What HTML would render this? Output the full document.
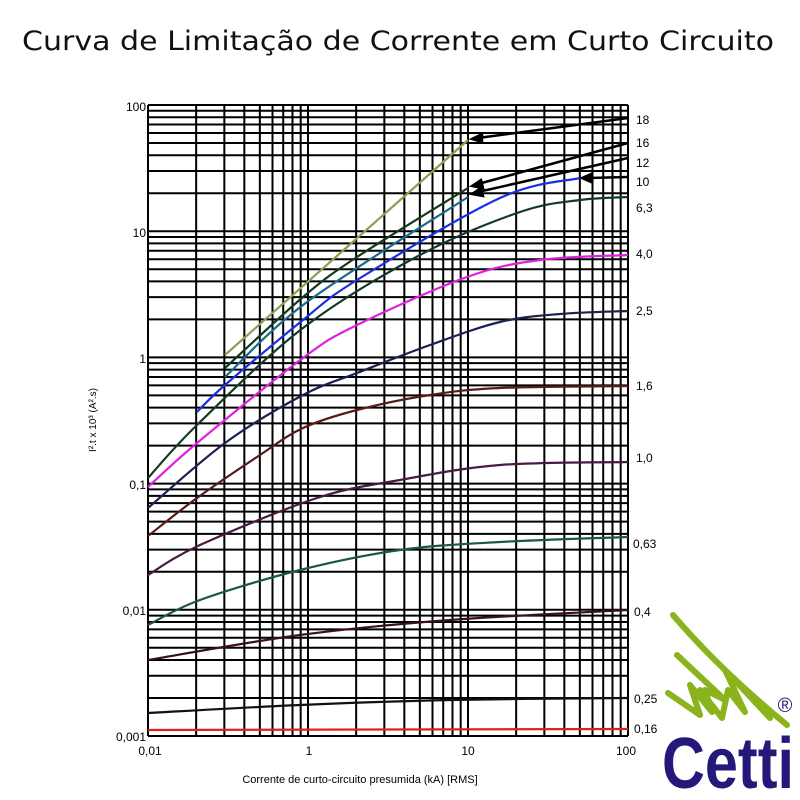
<!DOCTYPE html>
<html><head><meta charset="utf-8"><style>body{margin:0;background:#fff}svg{display:block}</style></head>
<body>
<svg id="s" width="800" height="800" xmlns="http://www.w3.org/2000/svg" font-family="Liberation Sans, sans-serif">
<text x="398" y="50" font-family="DejaVu Sans, sans-serif" font-size="27" text-anchor="middle" textLength="752" lengthAdjust="spacingAndGlyphs" fill="#111">Curva de Limitação de Corrente em Curto Circuito</text>
<g id="grid" stroke="#000" stroke-width="2"></g>
<g id="curves" fill="none" stroke-width="2.2"></g>
<g font-size="12" fill="#000" text-anchor="end">
<text x="146" y="111">100</text><text x="146" y="237">10</text><text x="146" y="363">1</text>
<text x="146" y="489">0,1</text><text x="146" y="615">0,01</text><text x="146" y="741">0,001</text>
</g>
<g font-size="12" fill="#000" text-anchor="middle">
<text x="150" y="755">0,01</text><text x="309" y="755">1</text>
<text x="468" y="755">10</text><text x="626" y="755">100</text>
<text x="360" y="783" font-size="11">Corrente de curto-circuito presumida (kA) [RMS]</text>
</g>
<text transform="translate(96,420) rotate(-90)" font-size="10" text-anchor="middle">I².t x 10³ (A².s)</text>
<g font-size="12" fill="#000">
<text x="636" y="124">18</text><text x="636" y="147">16</text><text x="636" y="167">12</text>
<text x="636" y="186">10</text><text x="636" y="212">6,3</text><text x="636" y="258">4,0</text>
<text x="636" y="315">2,5</text><text x="636" y="390">1,6</text><text x="636" y="462">1,0</text>
<text x="633" y="548">0,63</text><text x="634" y="616">0,4</text><text x="634" y="703">0,25</text>
<text x="634" y="733">0,16</text>
</g>
<g stroke="#000" stroke-width="2.5" fill="#000">
<line x1="628" y1="118" x2="478" y2="138"/><polygon points="472,139 482,134 482,142"/>
<line x1="628" y1="143" x2="478" y2="184"/><polygon points="472,186 481,180 483,188"/>
<line x1="628" y1="158" x2="478" y2="192"/><polygon points="472,194 481,188 483,196"/>
<line x1="628" y1="177" x2="588" y2="178"/><polygon points="582,178 591,174 591,182"/>
</g>
<g fill="none" stroke="#8ab31c" stroke-width="6" stroke-linecap="round" stroke-linejoin="round">
<path d="M673,615 Q720,670 787,725"/>
<path d="M677,655 L725,700 L705,690 L712,712 L690,685 L700,715 L668,693"/>
<path d="M700,690 L722,718 L728,690 L745,712 L725,670 L770,718"/>
</g>
<text x="785" y="712" font-size="20" fill="#2a1a7a" text-anchor="middle">®</text>
<text x="662" y="788" font-size="72" font-weight="bold" fill="#24187a" textLength="132" lengthAdjust="spacingAndGlyphs" font-family="Liberation Sans Narrow, Liberation Sans, sans-serif">Cetti</text>
</svg>
<script>
var L=148,R=628,T=105,B=736,dx=160,dy=(B-T)/5;
var g=document.getElementById('grid'),h='';
for(var d=0;d<3;d++)for(var k=1;k<10;k++){var x=L+dx*(d+Math.log10(k));h+='<line x1="'+x+'" y1="'+T+'" x2="'+x+'" y2="'+B+'"/>';}
h+='<line x1="'+R+'" y1="'+T+'" x2="'+R+'" y2="'+B+'"/>';
for(var d=0;d<5;d++)for(var k=1;k<10;k++){var y=B-dy*(d+Math.log10(k));h+='<line x1="'+L+'" y1="'+y+'" x2="'+R+'" y2="'+y+'"/>';}
h+='<line x1="'+L+'" y1="'+T+'" x2="'+R+'" y2="'+T+'"/>';
g.innerHTML=h;
var C=[
['#e02020',[[148,730],[628,729]]],
['#111',[[148,713],[300,705],[450,700],[628,698]]],
['#3a1020',[[148,660],[300,635],[450,620],[628,610]]],
['#1d5a3a',[[148,625],[200,600],[300,570],[400,550],[500,542],[628,537]]],
['#4a1a40',[[148,575],[200,545],[317,498],[400,480],[500,465],[628,462]]],
['#5a1a1a',[[148,536],[197,498],[260,455],[303,428],[357,410],[430,395],[500,388],[628,386]]],
['#1a2250',[[148,508],[225,443],[303,395],[357,373],[430,345],[500,322],[560,314],[628,311]]],
['#e020e0',[[148,487],[197,443],[303,358],[357,325],[467,277],[540,260],[628,255]]],
['#123a2a',[[148,478],[197,425],[303,328],[420,255],[520,212],[580,200],[628,197]]],
['#1a30e0',[[197,412],[225,385],[303,320],[357,280],[500,198],[580,178]]],
['#1a6a8a',[[225,377],[307,302],[468,197]]],
['#123a1a',[[225,368],[303,297],[357,257],[468,188]]],
['#8aa050',[[225,355],[468,140]]]];
var c=document.getElementById('curves'),s='';
C.forEach(function(q){var p=q[1],d='M'+p[0][0]+','+p[0][1];
for(var i=1;i<p.length;i++){var a=p[i-1],b=p[i],pa=p[i-2]||a,pb=p[i+1]||b;
var c1=[a[0]+(b[0]-pa[0])/6,a[1]+(b[1]-pa[1])/6],c2=[b[0]-(pb[0]-a[0])/6,b[1]-(pb[1]-a[1])/6];
d+=' C'+c1+' '+c2+' '+b;}
s+='<path d="'+d+'" stroke="'+q[0]+'"/>';});
c.innerHTML=s;
</script>
</body></html>
